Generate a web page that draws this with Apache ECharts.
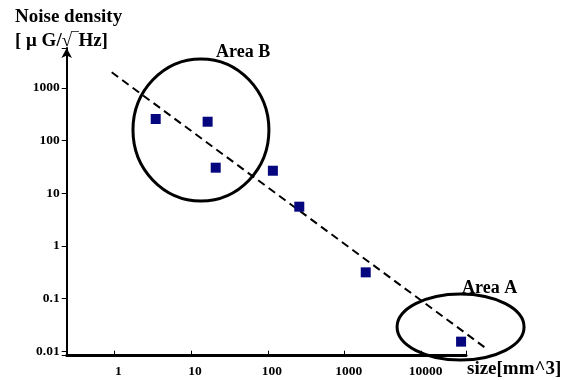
<!DOCTYPE html>
<html>
<head>
<meta charset="utf-8">
<script src="https://cdn.jsdelivr.net/npm/echarts@6/dist/echarts.min.js"></script>
<style>html,body{margin:0;padding:0;background:#fff;}#c{width:571px;height:380px;}</style>
</head>
<body>
<div id="c"></div>
<script>
// Data
var sizes = [3.46, 16.4, 20.9, 116, 256, 1876, 32700];          // size [mm^3]
var noise = [257, 228, 30.6, 26.8, 5.57, 0.316, 0.0153];        // noise density
var trendX = [0.925, 69000];
var trendY = [1977, 0.01145];
var xTickLabels = ['1', '10', '100', '1000', '10000'];
var yTickLabels = ['0.01', '0.1', '1', '10', '100', '1000'];
// Annotation ellipses as bounding boxes in data space: [xLow, yHigh, xHigh, yLow]
var areaNames = ['Area B', 'Area A'];
var areaBoxes = [[1.75, 3530, 103, 7.14], [4800, 0.123, 216000, 0.00687]];

var FONT = '"Liberation Serif", "DejaVu Serif", serif';
function powLabel(v, labels, minExp) {
  var l = Math.log10(v);
  var r = Math.round(l);
  if (Math.abs(l - r) > 1e-6) return '';
  var i = r - minExp;
  return (i >= 0 && i < labels.length) ? labels[i] : '';
}

var chart = echarts.init(document.getElementById('c'), null, {renderer: 'canvas'});
var option = {
  animation: false,
  backgroundColor: '#fff',
  grid: {left: 66.7, right: 105, top: 48, bottom: 24.3},
  xAxis: {
    type: 'log', logBase: 10, min: 0.24, max: 37900,
    splitLine: {show: false},
    axisLine: {lineStyle: {color: '#000', width: 3}},
    axisTick: {inside: true, length: 5, lineStyle: {color: '#000', width: 1}},
    minorTick: {show: false},
    axisLabel: {
      margin: 9, color: '#000', fontFamily: FONT, fontWeight: 'bold', fontSize: 13.5,
      padding: [0, 0, 0, 8],
      formatter: function (v) { return powLabel(v, xTickLabels, 0); }
    }
  },
  yAxis: {
    type: 'log', logBase: 10, min: 0.00828, max: 5715,
    splitLine: {show: false},
    axisLine: {lineStyle: {color: '#000', width: 2}, symbol: ['none', 'arrow'], symbolSize: [8, 10]},
    axisTick: {length: 5, lineStyle: {color: '#000', width: 1}},
    minorTick: {show: false},
    axisLabel: {
      margin: 7, color: '#000', fontFamily: FONT, fontWeight: 'bold', fontSize: 13.5,
      formatter: function (v) { return powLabel(v, yTickLabels, -2); }
    }
  },
  series: [
    {
      type: 'custom', clip: false, silent: true, z: 2,
      data: [[trendX[0], trendY[0], trendX[1], trendY[1]]],
      renderItem: function (params, api) {
        var p1 = api.coord([api.value(0), api.value(1)]);
        var p2 = api.coord([api.value(2), api.value(3)]);
        return {
          type: 'line',
          shape: {x1: p1[0], y1: p1[1], x2: p2[0], y2: p2[1]},
          style: {stroke: '#000', lineWidth: 2, lineDash: [8, 5], fill: null}
        };
      }
    },
    {
      type: 'custom', clip: false, silent: true, z: 3,
      data: areaBoxes,
      renderItem: function (params, api) {
        var p1 = api.coord([api.value(0), api.value(1)]);
        var p2 = api.coord([api.value(2), api.value(3)]);
        return {
          type: 'ellipse',
          shape: {cx: (p1[0] + p2[0]) / 2, cy: (p1[1] + p2[1]) / 2,
                  rx: Math.abs(p2[0] - p1[0]) / 2, ry: Math.abs(p2[1] - p1[1]) / 2},
          style: {fill: 'none', stroke: '#000', lineWidth: 3}
        };
      }
    },
    {
      type: 'scatter', symbol: 'rect', symbolSize: 10, z: 4,
      data: sizes.map(function (x, i) { return [x, noise[i]]; }),
      itemStyle: {color: '#06067e', opacity: 1}
    }
  ],
  graphic: [
    {type: 'text', left: 15, top: 8, style: {text: 'Noise density', font: 'bold 19px ' + FONT, fill: '#000'}},
    {type: 'text', left: 15, top: 32, style: {text: '[ \u03bc G/\u221a\u203eHz]', font: 'bold 19px ' + FONT, fill: '#000'}},
    {type: 'text', left: 216, top: 43, style: {text: areaNames[0], font: 'bold 18px ' + FONT, fill: '#000'}},
    {type: 'text', left: 462, top: 279, style: {text: areaNames[1], font: 'bold 18px ' + FONT, fill: '#000'}},
    {type: 'text', left: 467, top: 360, style: {text: 'size[mm^3]', font: 'bold 19px ' + FONT, fill: '#000'}}
  ]
};
chart.setOption(option);
</script>
</body>
</html>
